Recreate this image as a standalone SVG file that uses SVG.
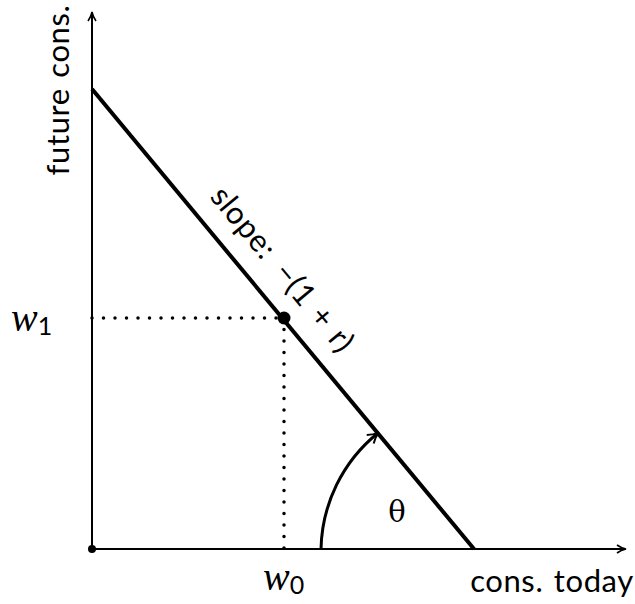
<svg xmlns="http://www.w3.org/2000/svg" width="635" height="604" viewBox="0 0 635 604">
<style>
.ax{stroke:#000;stroke-width:2;fill:none}
.arc{stroke:#000;stroke-width:3;fill:none}
.bl{stroke:#000;stroke-width:4;fill:none}
.dot{stroke:#000;stroke-width:3.5;fill:none;stroke-dasharray:0 11.5;stroke-linecap:round}
.t{font-family:Lato,"Open Sans",sans-serif;font-size:31px;letter-spacing:0.6px;word-spacing:2px;fill:#000}
.m{font-family:"Liberation Serif",serif;font-size:40px;font-style:italic;fill:#000}
.s{font-family:Lato,sans-serif;font-size:25px;font-style:normal}
</style>
<defs>
<marker id="ah" markerWidth="12" markerHeight="12" refX="9" refY="6" orient="auto" markerUnits="userSpaceOnUse">
<path d="M1,2 Q5,5 10,6 Q5,7 1,10" fill="none" stroke="#000" stroke-width="1.6"/>
</marker>
<marker id="ah2" markerWidth="16" markerHeight="16" refX="12" refY="8" orient="auto" markerUnits="userSpaceOnUse">
<path d="M2,2.5 Q7,6.5 13,8 Q7,9.5 2,13.5" fill="none" stroke="#000" stroke-width="2"/>
</marker>
</defs>
<g id="connectors">
<line class="ax" x1="92" y1="549" x2="92" y2="13" marker-end="url(#ah)"/>
<line class="ax" x1="92" y1="549" x2="625" y2="549" marker-end="url(#ah)"/>
<line class="bl" x1="92" y1="89" x2="474" y2="549"/>
<line class="dot" x1="92" y1="318" x2="284" y2="318"/>
<line class="dot" x1="284" y1="318" x2="284" y2="549"/>
<path class="arc" d="M321,549 A153,153 0 0 1 378,433" marker-end="url(#ah2)"/>
</g>
<g id="origin"><circle cx="92" cy="549" r="4" fill="#000"/></g>
<g id="point"><circle cx="284" cy="318" r="6.5" fill="#000"/></g>
<g id="ylabel"><text class="t" transform="translate(69,90) rotate(-90)" text-anchor="middle">future cons.</text></g>
<g id="xlabel"><text class="t" x="552" y="592" text-anchor="middle">cons. today</text></g>
<g id="w1"><text class="m" x="11" y="331">w<tspan class="s" dy="4">1</tspan></text></g>
<g id="w0"><text class="m" x="263" y="590">w<tspan class="s" dy="4">0</tspan></text></g>
<g id="theta"><text x="397" y="522" text-anchor="middle" style="font-family:'DejaVu Serif',serif;font-size:29px">θ</text></g>
<g id="slope" transform="translate(92,89) rotate(50.3)">
<text class="t" x="158" y="-21">slope:</text>
<text class="t" x="257" y="-21">−(1 + r)</text>
</g>
</svg>
